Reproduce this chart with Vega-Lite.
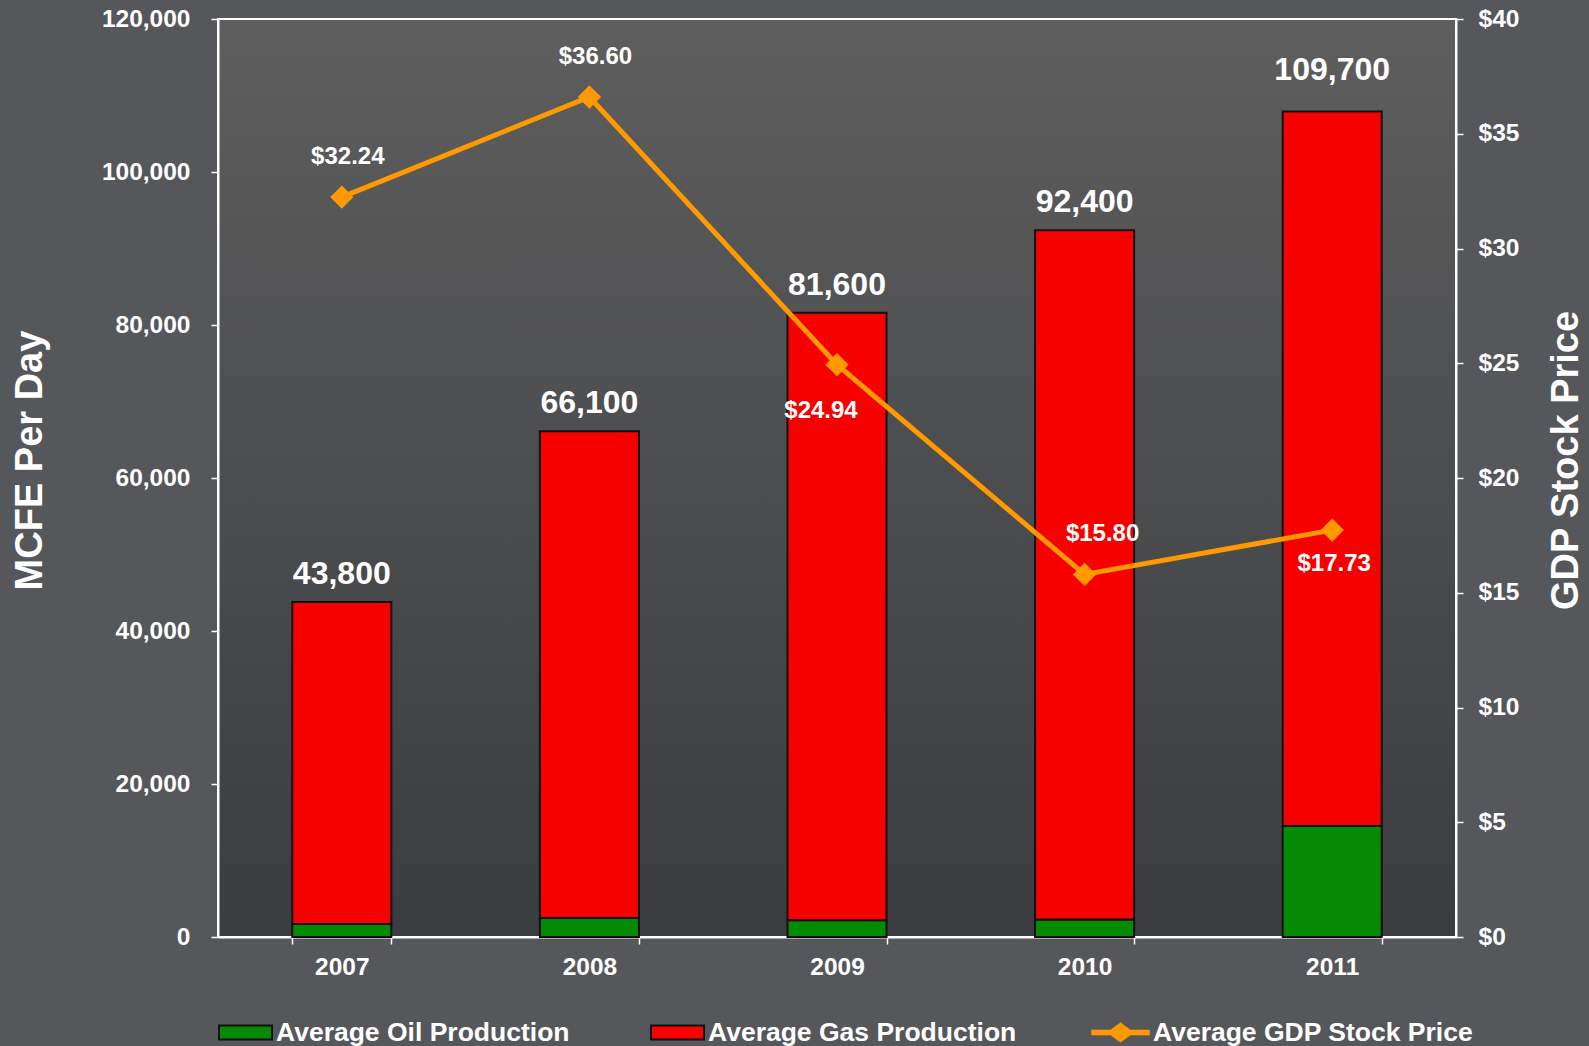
{
  "$schema": "https://vega.github.io/schema/vega-lite/v6.json",
  "width": 1238,
  "height": 918,
  "autosize": {"type": "none"},
  "padding": {"left": 218, "top": 19, "right": 133, "bottom": 109},
  "background": "#55575b",
  "datasets": {
    "bars": [
      {"year": "2007", "series": "Average Oil Production", "mcfe": 1700},
      {"year": "2007", "series": "Average Gas Production", "mcfe": 42100},
      {"year": "2008", "series": "Average Oil Production", "mcfe": 2500},
      {"year": "2008", "series": "Average Gas Production", "mcfe": 63600},
      {"year": "2009", "series": "Average Oil Production", "mcfe": 2200},
      {"year": "2009", "series": "Average Gas Production", "mcfe": 79400},
      {"year": "2010", "series": "Average Oil Production", "mcfe": 2300},
      {"year": "2010", "series": "Average Gas Production", "mcfe": 90100},
      {"year": "2011", "series": "Average Oil Production", "mcfe": 14500},
      {"year": "2011", "series": "Average Gas Production", "mcfe": 93400}
    ],
    "totals": [
      {"year": "2007", "total": 43800},
      {"year": "2008", "total": 66100},
      {"year": "2009", "total": 81600},
      {"year": "2010", "total": 92400},
      {"year": "2011", "total": 109700}
    ],
    "price": [
      {"year": "2007", "price": 32.24, "series": "Average GDP Stock Price"},
      {"year": "2008", "price": 36.60, "series": "Average GDP Stock Price"},
      {"year": "2009", "price": 24.94, "series": "Average GDP Stock Price"},
      {"year": "2010", "price": 15.80, "series": "Average GDP Stock Price"},
      {"year": "2011", "price": 17.73, "series": "Average GDP Stock Price"}
    ]
  },
  "encoding": {
    "x": {
      "field": "year",
      "type": "nominal",
      "scale": {"paddingInner": 0.6, "paddingOuter": 0.3},
      "axis": {
        "title": null,
        "labelAngle": 0,
        "tickBand": "extent",
        "tickSize": 7,
        "labelPadding": 11
      }
    }
  },
  "layer": [
    {
      "layer": [
        {
          "data": {"name": "bars"},
          "mark": {"type": "bar", "stroke": "#111111", "strokeWidth": 2},
          "encoding": {
            "y": {
              "field": "mcfe",
              "type": "quantitative",
              "stack": "zero",
              "scale": {"domain": [0, 120000], "nice": false},
              "axis": {
                "title": "MCFE Per Day",
                "format": ",d",
                "values": [0, 20000, 40000, 60000, 80000, 100000, 120000],
                "labelPadding": 21,
                "titleX": -188,
                "titleY": 441,
                "titleAngle": -90,
                "titleAlign": "center",
                "titleBaseline": "middle"
              }
            },
            "fill": {
              "field": "series",
              "type": "nominal",
              "scale": {
                "domain": ["Average Oil Production", "Average Gas Production"],
                "range": ["#058A05", "#F70000"]
              },
              "legend": {
                "title": null,
                "orient": "none",
                "legendX": 0,
                "legendY": 986,
                "direction": "horizontal",
                "symbolType": "M-1,-0.26L1,-0.26L1,0.26L-1,0.26Z",
                "symbolSize": 2809,
                "symbolStrokeColor": "#111111",
                "symbolStrokeWidth": 2,
                "symbolOpacity": 1
              }
            },
            "order": {"field": "series", "sort": "descending"}
          }
        },
        {
          "data": {"name": "totals"},
          "mark": {"type": "text", "color": "white", "fontSize": 32, "fontWeight": "bold", "baseline": "alphabetic", "dy": -18},
          "encoding": {
            "y": {"field": "total", "type": "quantitative"},
            "text": {"field": "total", "type": "quantitative", "format": ",d"}
          }
        }
      ]
    },
    {
      "data": {"name": "price"},
      "layer": [
        {
          "mark": {"type": "line", "strokeWidth": 5, "point": {"shape": "diamond", "size": 420, "filled": true, "color": "#FF9900", "opacity": 1}},
          "encoding": {
            "y": {
              "field": "price",
              "type": "quantitative",
              "scale": {"domain": [0, 40], "nice": false},
              "axis": {
                "orient": "right",
                "title": "GDP Stock Price",
                "format": "$d",
                "values": [0, 5, 10, 15, 20, 25, 30, 35, 40],
                "labelPadding": 15,
                "titleX": 110,
                "titleY": 441,
                "titleAngle": -90,
                "titleAlign": "center",
                "titleBaseline": "middle"
              }
            },
            "stroke": {
              "field": "series",
              "type": "nominal",
              "scale": {"domain": ["Average GDP Stock Price"], "range": ["#FF9900"]},
              "legend": {
                "title": null,
                "orient": "none",
                "legendX": 873,
                "legendY": 984,
                "direction": "horizontal",
                "symbolType": "M-1,-0.09L-0.34,-0.09L0,-0.34L0.34,-0.09L1,-0.09L1,0.09L0.34,0.09L0,0.34L-0.34,0.09L-1,0.09Z",
                "symbolSize": 3364,
                "symbolFillColor": "#FF9900",
                "symbolStrokeColor": "#FF9900",
                "symbolStrokeWidth": 0.5,
                "symbolOpacity": 1
              }
            }
          }
        },
        {
          "transform": [{"filter": {"field": "year", "oneOf": ["2007", "2008"]}}],
          "mark": {"type": "text", "color": "white", "fontSize": 24, "fontWeight": "bold", "baseline": "middle", "dy": -40, "dx": 6},
          "encoding": {
            "y": {"field": "price", "type": "quantitative"},
            "text": {"field": "price", "type": "quantitative", "format": "$.2f"}
          }
        },
        {
          "transform": [{"filter": {"field": "year", "equal": "2010"}}],
          "mark": {"type": "text", "color": "white", "fontSize": 24, "fontWeight": "bold", "baseline": "middle", "dy": -40, "dx": 18},
          "encoding": {
            "y": {"field": "price", "type": "quantitative"},
            "text": {"field": "price", "type": "quantitative", "format": "$.2f"}
          }
        },
        {
          "transform": [{"filter": {"field": "year", "equal": "2009"}}],
          "mark": {"type": "text", "color": "white", "fontSize": 24, "fontWeight": "bold", "baseline": "middle", "dy": 46, "dx": -16},
          "encoding": {
            "y": {"field": "price", "type": "quantitative"},
            "text": {"field": "price", "type": "quantitative", "format": "$.2f"}
          }
        },
        {
          "transform": [{"filter": {"field": "year", "equal": "2011"}}],
          "mark": {"type": "text", "color": "white", "fontSize": 24, "fontWeight": "bold", "baseline": "middle", "dy": 34, "dx": 2},
          "encoding": {
            "y": {"field": "price", "type": "quantitative"},
            "text": {"field": "price", "type": "quantitative", "format": "$.2f"}
          }
        }
      ]
    }
  ],
  "resolve": {"scale": {"y": "independent"}},
  "config": {
    "font": "Liberation Sans",
    "view": {
      "fill": {
        "gradient": "linear",
        "x1": 0, "y1": 0, "x2": 0, "y2": 1,
        "stops": [
          {"offset": 0, "color": "#5e5e5e"},
          {"offset": 1, "color": "#3a3c40"}
        ]
      },
      "stroke": "white",
      "strokeWidth": 2
    },
    "axis": {
      "domainColor": "white",
      "domainWidth": 2,
      "tickColor": "white",
      "tickWidth": 1.5,
      "tickSize": 7,
      "grid": false,
      "labelColor": "white",
      "labelFont": "Liberation Sans",
      "labelFontWeight": "bold",
      "labelFontSize": 24.5,
      "titleColor": "white",
      "titleFont": "Liberation Sans",
      "titleFontWeight": "bold",
      "titleFontSize": 38
    },
    "legend": {
      "labelColor": "white",
      "labelFont": "Liberation Sans",
      "labelFontWeight": "bold",
      "labelFontSize": 26.5,
      "labelLimit": 0,
      "columnPadding": 77,
      "labelOffset": 3
    }
  }
}
